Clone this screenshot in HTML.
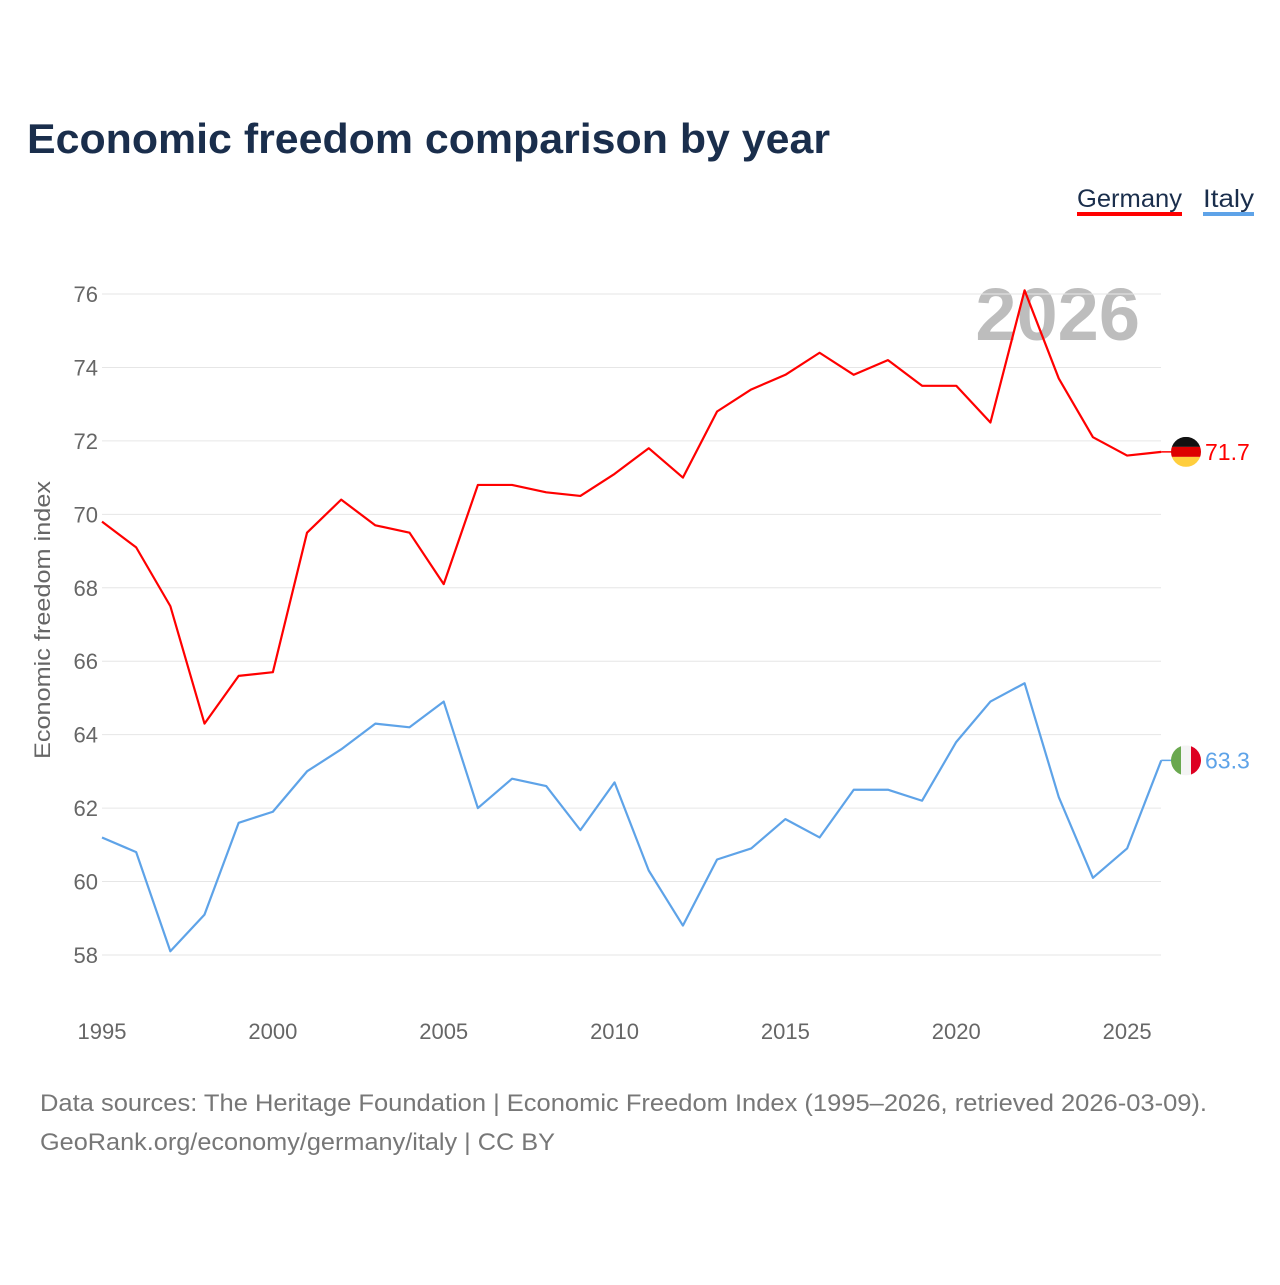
<!DOCTYPE html>
<html><head><meta charset="utf-8"><style>
body{margin:0;background:#fff;}
svg text{font-family:"Liberation Sans",sans-serif;}
</style></head><body>
<svg id="chart" width="1280" height="1280" xmlns="http://www.w3.org/2000/svg">
<text x="27" y="153" font-size="42" font-weight="bold" fill="#1a2e4c" textLength="803" lengthAdjust="spacingAndGlyphs">Economic freedom comparison by year</text>
<g>
<text x="1077" y="207" font-size="25" fill="#1a2e4c" textLength="105" lengthAdjust="spacingAndGlyphs">Germany</text>
<rect x="1077" y="212" width="105" height="4" fill="#ff0000"/>
</g>
<g>
<text x="1203" y="207" font-size="25" fill="#1a2e4c" textLength="51" lengthAdjust="spacingAndGlyphs">Italy</text>
<rect x="1203" y="212" width="51" height="4" fill="#5ea3e8"/>
</g>
<text x="1140" y="340" text-anchor="end" font-size="74" font-weight="bold" fill="#bdbdbd">2026</text>
<g id="grid"></g>
<g id="xticks"></g>
<text transform="translate(50,620) rotate(-90)" text-anchor="middle" font-size="22" fill="#666" textLength="278" lengthAdjust="spacingAndGlyphs">Economic freedom index</text>
<g id="series"></g>
<text x="40" y="1111" font-size="24" fill="#777" textLength="1167" lengthAdjust="spacingAndGlyphs">Data sources: The Heritage Foundation | Economic Freedom Index (1995–2026, retrieved 2026-03-09).</text>
<text x="40" y="1150" font-size="24" fill="#777" textLength="515" lengthAdjust="spacingAndGlyphs">GeoRank.org/economy/germany/italy | CC BY</text>
</svg>
<script>
const years=[1995,1996,1997,1998,1999,2000,2001,2002,2003,2004,2005,2006,2007,2008,2009,2010,2011,2012,2013,2014,2015,2016,2017,2018,2019,2020,2021,2022,2023,2024,2025,2026];
const germany=[69.8,69.1,67.5,64.3,65.6,65.7,69.5,70.4,69.7,69.5,68.1,70.8,70.8,70.6,70.5,71.1,71.8,71.0,72.8,73.4,73.8,74.4,73.8,74.2,73.5,73.5,72.5,76.1,73.7,72.1,71.6,71.7];
const italy=[61.2,60.8,58.1,59.1,61.6,61.9,63.0,63.6,64.3,64.2,64.9,62.0,62.8,62.6,61.4,62.7,60.3,58.8,60.6,60.9,61.7,61.2,62.5,62.5,62.2,63.8,64.9,65.4,62.3,60.1,60.9,63.3];
const yTicks=[58,60,62,64,66,68,70,72,74,76];
const xTicks=[1995,2000,2005,2010,2015,2020,2025];
const NS="http://www.w3.org/2000/svg";
const x=v=>102+(v-1995)*34.17;
const y=v=>294+(76-v)*36.72;
function mk(tag,attrs,parent,txt){const e=document.createElementNS(NS,tag);for(const k in attrs)e.setAttribute(k,attrs[k]);if(txt!==undefined)e.textContent=txt;parent.appendChild(e);return e;}
const grid=document.getElementById('grid');
yTicks.forEach(t=>{
 const l=mk('line',{x1:102,x2:1161,y1:y(t),y2:y(t),stroke:'#e6e6e6','stroke-width':1},grid);
 
 
 const tx=mk('text',{x:98,y:y(t)+8,'text-anchor':'end','font-size':22,fill:'#666'},grid,String(t));
 
 
});
const xt=document.getElementById('xticks');
xTicks.forEach(t=>{
 const tx=mk('text',{x:x(t),y:1039,'text-anchor':'middle','font-size':22,fill:'#666'},xt,String(t));
 
 
});
const sg=document.getElementById('series');
function series(vals,color,name,flag){
 const p=mk('polyline',{points:vals.map((v,i)=>x(years[i])+','+y(v)).join(' '),fill:'none',stroke:color,'stroke-width':2.2,'stroke-linejoin':'round'},sg);
 
 
 const last=vals[vals.length-1],cx=1186,cy=y(last);
 const c=mk('line',{x1:x(years[years.length-1]),x2:cx,y1:cy,y2:cy,stroke:color,'stroke-width':1.5},sg);
 
 
 const g=mk('g',{},sg);
 
 
 const cid='clip'+name;
 const cp=mk('clipPath',{id:cid},g);mk('circle',{cx:cx,cy:cy,r:15},cp);
 const fg=mk('g',{'clip-path':'url(#'+cid+')'},g);
 flag.forEach((c,i)=>{
  if(flag.vertical) mk('rect',{x:cx-15+i*10,y:cy-15,width:10,height:30,fill:c},fg);
  else mk('rect',{x:cx-15,y:cy-15+i*10,width:30,height:10,fill:c},fg);
 });
 const t=mk('text',{x:1205,y:cy+8,'font-size':23,fill:color},sg,last.toFixed(1));
 
 
}
series(germany,'#ff0000','germany',['#111','#dd0000','#ffce3d']);
const itf=['#6aa84f','#f4f4f4','#dd0022'];itf.vertical=true;
series(italy,'#5ea3e8','italy',itf);
</script>
</body></html>
